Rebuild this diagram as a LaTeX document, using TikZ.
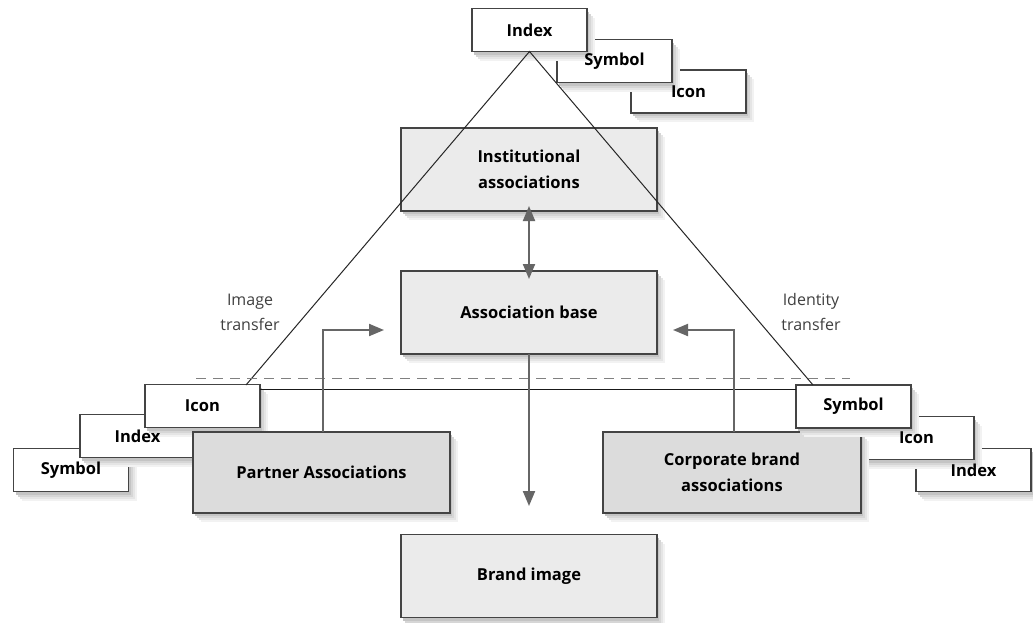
\documentclass[tikz,border=0pt]{standalone}
\usepackage{fontspec}
\setmainfont{Open Sans}
\usetikzlibrary{arrows.meta}
\definecolor{edge}{HTML}{444444}
\definecolor{arrowgrey}{HTML}{666666}
\definecolor{lightbox}{HTML}{EBEBEB}
\definecolor{darkbox}{HTML}{DCDCDC}
\tikzset{
  smallbox/.style={draw=edge,line width=1.1pt,fill=white,minimum width=115pt,minimum height=43pt,inner sep=0pt,outer sep=0pt},
  bigbox/.style={draw=edge,line width=1.1pt,minimum width=256pt,minimum height=83pt,inner sep=0pt,outer sep=0pt},
  light/.style={bigbox,fill=lightbox},
  dark/.style={bigbox,fill=darkbox,minimum height=81pt},
  shA/.style={fill=black!5,draw=none},
  shB/.style={fill=black!10,draw=none},
  shC/.style={fill=black!16,draw=none},
  shD/.style={fill=black!23,draw=none},
  boxtxt/.style={align=center,inner sep=0pt,font=\fontsize{16.5}{26}\selectfont\bfseries},
  arr/.style={draw=arrowgrey,line width=2pt,-{Triangle[length=15pt,width=12pt]}},
  dblarr/.style={draw=arrowgrey,line width=2pt,{Triangle[length=15pt,width=12pt]}-{Triangle[length=15pt,width=12pt]}},
  tri/.style={draw=black!85,line width=1pt},
  lbl/.style={align=center,font=\fontsize{16}{25}\selectfont,text=black!75}
}
% #1 style, #2 name, #3 position
\newcommand\shadowednode[3]{%
  \node[#1,draw=none,fill=none] (#2) at (#3) {};
  \path[shA] ([shift={(8,9)}]#2.north west) rectangle ([shift={(8,9)}]#2.south east);
  \path[shB] ([shift={(6,7)}]#2.north west) rectangle ([shift={(6,7)}]#2.south east);
  \path[shC] ([shift={(4,5)}]#2.north west) rectangle ([shift={(4,5)}]#2.south east);
  \path[shD] ([shift={(2,3)}]#2.north west) rectangle ([shift={(2,3)}]#2.south east);
  \node[#1] (#2-box) at (#2) {};
}
\begin{document}
\begin{tikzpicture}[x=1pt,y=-1pt]
\useasboundingbox (0,0) rectangle (1033,622);
\fill[white] (0,0) rectangle (1033,622);

% top stack
\shadowednode{smallbox}{ticon}{688.5,91.5}
\shadowednode{smallbox}{tsym}{614.5,61}
\shadowednode{smallbox}{tidx}{529.5,30}

% central boxes
\shadowednode{light}{inst}{529,169.5}
\shadowednode{light}{abase}{529,312.5}
\shadowednode{light}{brand}{529,576}

% left stack
\shadowednode{smallbox}{lsym}{71,470}
\shadowednode{smallbox}{lidx}{137.5,436}
\shadowednode{smallbox}{licon}{202.5,406}
\shadowednode{dark,minimum width=257pt}{partner}{321.5,472.5}

% right stack
\shadowednode{smallbox}{ridx}{973.5,470}
\shadowednode{smallbox}{ricon}{916.5,438}
\shadowednode{dark,minimum width=258pt}{corp}{732,472.5}
\shadowednode{smallbox}{rsym}{853.5,406.5}

% texts
\node[boxtxt] (ticon-t) at (ticon) {Icon};
\node[boxtxt] (tsym-t) at (tsym) {Symbol};
\node[boxtxt] (tidx-t) at (tidx) {Index};
\node[boxtxt] (inst-t) at (inst) {Institutional\\associations};
\node[boxtxt] (abase-t) at (abase) {Association base};
\node[boxtxt] (brand-t) at (brand) {Brand image};
\node[boxtxt] (lsym-t) at (lsym) {Symbol};
\node[boxtxt] (lidx-t) at (lidx) {Index};
\node[boxtxt] (licon-t) at (licon) {Icon};
\node[boxtxt] (partner-t) at (partner) {Partner Associations};
\node[boxtxt] (ridx-t) at (ridx) {Index};
\node[boxtxt] (ricon-t) at (ricon) {Icon};
\node[boxtxt] (corp-t) at (corp) {Corporate brand\\associations};
\node[boxtxt] (rsym-t) at (rsym) {Symbol};

% coordinates
\coordinate (tl) at (246,385);
\coordinate (tr) at (813,385);
\coordinate (hl) at (260,389);
\coordinate (hr) at (796,389);
\coordinate (dl) at (196,378);
\coordinate (dr) at (850,378);
\coordinate (pa) at (384,330);
\coordinate (ca) at (673,330);
\coordinate (down) at (529,506);

% triangle
\draw[tri] (tl) -- (tidx.south) -- (tr);
\draw[draw=black!90,line width=1pt] (hl) -- (hr);
\draw[draw=black!50,line width=1pt,dash pattern=on 10pt off 7pt] (dl) -- (dr);

% arrows
\draw[dblarr] ([yshift=5pt]inst.south) -- ([yshift=-8pt]abase.north);
\draw[arr] (abase.south) -- (down);
\draw[arr] ([xshift=1.5pt]partner.north) |- (pa);
\draw[arr] ([xshift=2pt]corp.north) |- (ca);

% labels
\node[lbl] (imgt) at (250,312) {Image\\transfer};
\node[lbl] (idt) at (811,312) {Identity\\transfer};
\end{tikzpicture}
\end{document}
